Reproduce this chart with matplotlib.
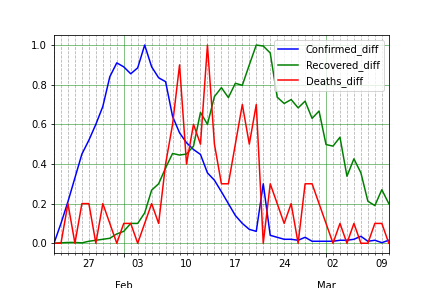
import numpy as np
import pandas as pd
import matplotlib
matplotlib.use("Agg")
import matplotlib.pyplot as plt
import matplotlib.dates as mdates
from matplotlib.ticker import FuncFormatter

dates = pd.date_range("2020-01-22", "2020-03-10", freq="D")

confirmed_diff = [0.0, 0.10, 0.21, 0.33, 0.45, 0.52, 0.60, 0.69, 0.84, 0.91,
                  0.89, 0.855, 0.885, 1.0, 0.89, 0.835, 0.815, 0.64, 0.557, 0.507,
                  0.473, 0.448, 0.355, 0.318, 0.26, 0.20, 0.14, 0.10, 0.07, 0.06,
                  0.30, 0.04, 0.03, 0.02, 0.02, 0.015, 0.03, 0.01, 0.01, 0.01,
                  0.01, 0.015, 0.015, 0.02, 0.035, 0.01, 0.015, 0.003, 0.015]
recovered_diff = [0.0, 0.002, 0.004, 0.004, 0.002, 0.01, 0.015, 0.02, 0.025, 0.047,
                  0.06, 0.10, 0.10, 0.153, 0.268, 0.30, 0.38, 0.453, 0.445, 0.45,
                  0.49, 0.66, 0.60, 0.74, 0.785, 0.735, 0.807, 0.797, 0.90, 1.0,
                  0.995, 0.96, 0.737, 0.705, 0.725, 0.683, 0.717, 0.63, 0.667, 0.498,
                  0.49, 0.535, 0.338, 0.426, 0.355, 0.212, 0.19, 0.27, 0.20]
deaths_diff = [0.0, 0.0, 0.2, 0.0, 0.2, 0.2, 0.0, 0.2, 0.1, 0.0,
               0.1, 0.1, 0.0, 0.1, 0.2, 0.1, 0.4, 0.6, 0.9, 0.4,
               0.6, 0.5, 1.0, 0.5, 0.3, 0.3, 0.5, 0.7, 0.5, 0.7,
               0.0, 0.3, 0.2, 0.1, 0.2, 0.0, 0.3, 0.3, 0.2, 0.1,
               0.0, 0.1, 0.0, 0.1, 0.0, 0.0, 0.1, 0.1, 0.0]

series_names = ["Confirmed_diff", "Recovered_diff", "Deaths_diff"]
series_colors = ["blue", "green", "red"]

fig, ax = plt.subplots(figsize=(6, 4), dpi=72)
fig.subplots_adjust(left=0.125, right=0.9, top=0.878, bottom=0.121)
for vals, name, col in zip([confirmed_diff, recovered_diff, deaths_diff],
                           series_names, series_colors):
    ax.plot(dates, vals, color=col, label=name, linewidth=1.5)

ax.set_xlim(dates[0], dates[-1])
ax.set_ylim(-0.05, 1.05)
ax.set_yticks(np.arange(0, 1.01, 0.2))

ax.xaxis.set_major_locator(mdates.MonthLocator())
ax.xaxis.set_major_formatter(mdates.DateFormatter("%b"))
ax.xaxis.set_minor_locator(mdates.DayLocator())
ax.tick_params(axis="x", which="major", pad=24)

def minor_fmt(x, pos):
    d = mdates.num2date(x)
    if d.weekday() == 0 and d.day != 1:
        return d.strftime("%d")
    return ""

ax.xaxis.set_minor_formatter(FuncFormatter(minor_fmt))

ax.grid(which="major", color="green", alpha=0.6, linewidth=0.8)
ax.grid(which="minor", axis="x", color="gray", linestyle="--", alpha=0.6, linewidth=0.8)

ax.legend(loc="upper right")
fig.savefig("out.png", dpi=72)
